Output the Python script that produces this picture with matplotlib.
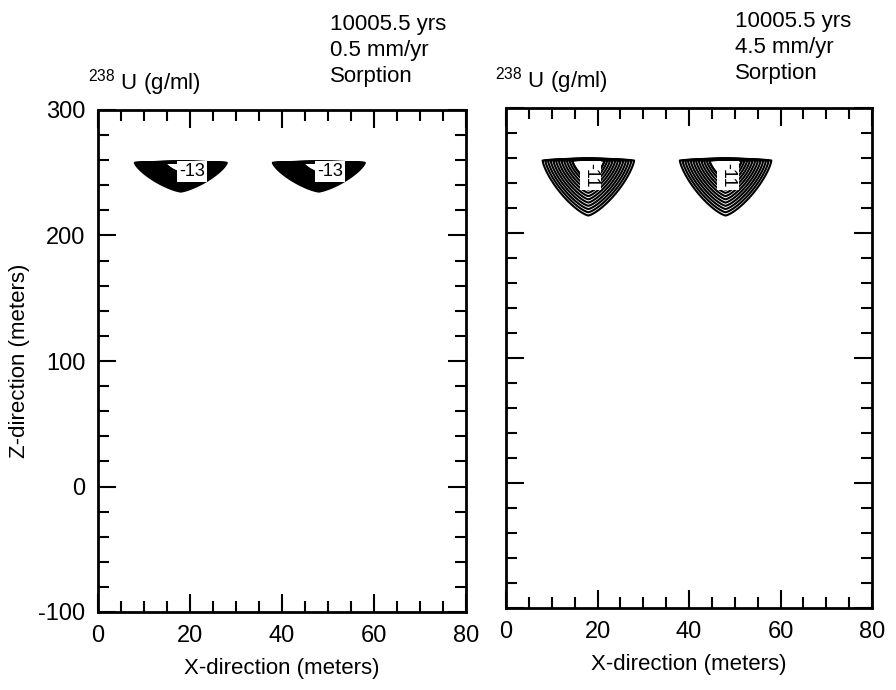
import numpy as np
import matplotlib.pyplot as plt
from matplotlib.ticker import MultipleLocator

plt.rcParams['font.family'] = ['Liberation Sans', 'DejaVu Sans']
plt.rcParams['mathtext.fontset'] = 'custom'
plt.rcParams['mathtext.rm'] = 'Liberation Sans'
plt.rcParams['mathtext.default'] = 'regular'
plt.rcParams['axes.unicode_minus'] = False
plt.rcParams['contour.negative_linestyle'] = 'solid'

# plume description (meters, log10 g/ml)
plume_x = [18, 48]          # apex x of each plume
plume_top = 258             # repository level (top of plume)
plume_halfwidth = [10, 10]  # half width at the top
plume_depth = [23, 44]      # depth of outermost contour: 0.5 mm/yr, 4.5 mm/yr
peak_conc = [-8.2, -5.0]    # extrapolated value at the source centre
levels_slow = np.arange(-22.0, -12.5, 0.5)
levels_fast = np.arange(-22.0, -10.5, 1.0)
label_level = [-13.0, -11.0]
label_pos = [[(20.5, 251), (50.5, 251)], [(18.5, 246), (48.5, 246)]]
label_rot = [0, -90]

titles = ['10005.5 yrs\n0.5 mm/yr\nSorption', '10005.5 yrs\n4.5 mm/yr\nSorption']
x_ticks = [0, 20, 40, 60, 80]
y_ticks = [-100, 0, 100, 200, 300]

xg = np.linspace(0, 80, 801)
zg = np.linspace(-100, 300, 1601)
X, Z = np.meshgrid(xg, zg)


def field(depth, peak, levels):
    c = np.full(X.shape, levels[0] - 5.0)
    d = np.where(Z < plume_top, plume_top - Z, (Z - plume_top) * 25.0)
    for xc, hw in zip(plume_x, plume_halfwidth):
        r = (np.abs(X - xc) / hw) ** 1.35 + (d / depth) ** 1.35
        r = r ** (1 / 1.35)
        c = np.maximum(c, peak - (peak - levels[0]) * r)
    return c


fig = plt.figure(figsize=(8.96, 6.9), dpi=100)
ax1 = fig.add_axes([98 / 896, 1 - 612 / 690, 368 / 896, 502 / 690])
ax2 = fig.add_axes([506 / 896, 1 - 608 / 690, 366 / 896, 500 / 690])

for i, (ax, levels) in enumerate(zip([ax1, ax2], [levels_slow, levels_fast])):
    C = field(plume_depth[i], peak_conc[i], levels)
    cs = ax.contour(X, Z, C, levels=levels, colors='black', linewidths=1.5)
    lab = ax.contour(X, Z, C, levels=[label_level[i]], colors='black', linewidths=1.5)
    texts = ax.clabel(lab, fmt='%d', fontsize=13, manual=label_pos[i], inline=False)
    for t in texts:
        t.set_rotation(label_rot[i])
        t.set_position(label_pos[i][texts.index(t)])
        t.set_bbox(dict(facecolor='white', edgecolor='none', pad=1.5))
        t.set_zorder(5)
    ax.set_xlim(0, 80)
    ax.set_ylim(-100, 300)
    ax.xaxis.set_major_locator(MultipleLocator(20))
    ax.xaxis.set_minor_locator(MultipleLocator(5))
    ax.yaxis.set_major_locator(MultipleLocator(100))
    ax.yaxis.set_minor_locator(MultipleLocator(20))
    ax.tick_params(which='both', direction='in', top=True, right=True,
                   labelsize=17, width=1.5, pad=9)
    ax.tick_params(which='major', length=13)
    ax.tick_params(which='minor', length=8)
    for sp in ax.spines.values():
        sp.set_linewidth(2)
    ax.set_xticks(x_ticks)
    ax.set_xlabel('X-direction (meters)', fontsize=16, labelpad=8)

ax1.set_yticks(y_ticks)
ax1.set_ylabel('Z-direction (meters)', fontsize=16, labelpad=6)
ax2.set_yticklabels([])

fig.text(88 / 896, 1 - 90 / 690, '$^{238}$ U (g/ml)', fontsize=16, va='baseline')
fig.text(495 / 896, 1 - 88 / 690, '$^{238}$ U (g/ml)', fontsize=16, va='baseline')
fig.text(330 / 896, 1 - 14 / 690, titles[0], fontsize=16, va='top', linespacing=1.3)
fig.text(735 / 896, 1 - 11 / 690, titles[1], fontsize=16, va='top', linespacing=1.3)

fig.savefig('out.png', dpi=100)
